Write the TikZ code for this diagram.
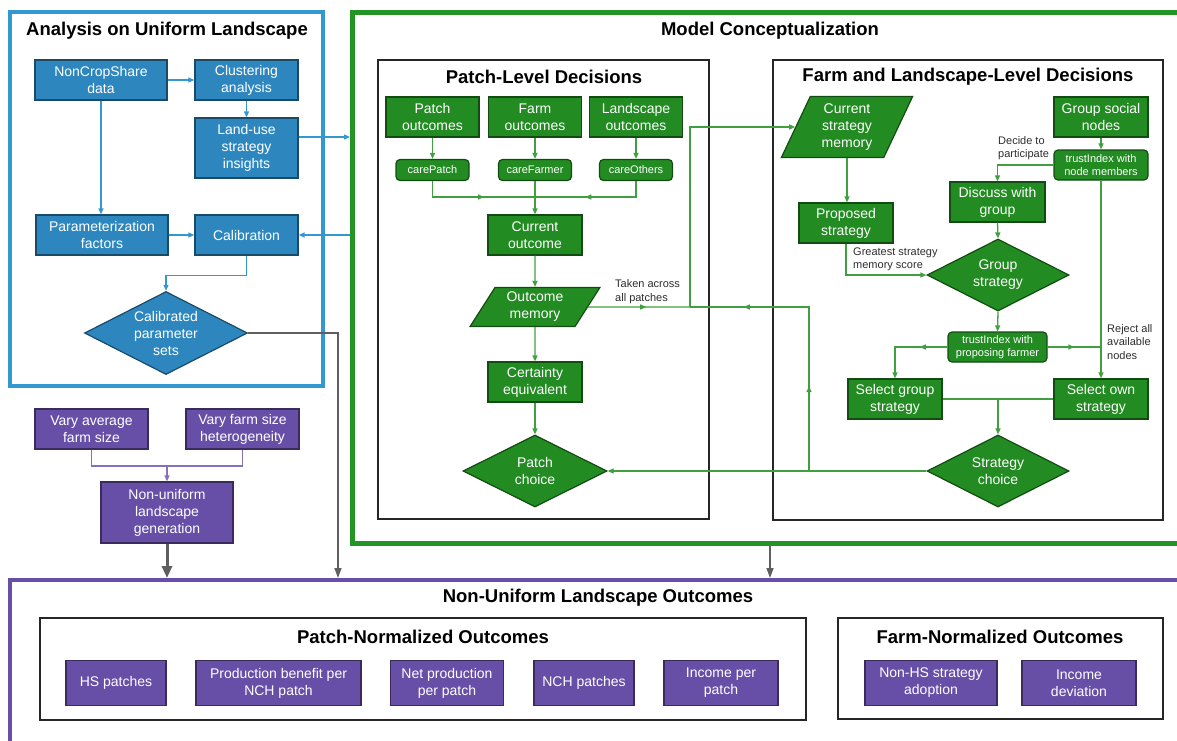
\documentclass[tikz,border=0pt]{standalone}
\usepackage{fontspec}
\setmainfont{Liberation Sans}
\usetikzlibrary{arrows.meta,shapes.geometric,decorations.markings}

\definecolor{blu}{RGB}{45,135,190}
\definecolor{bluCornice}{RGB}{52,152,208}
\definecolor{verde}{RGB}{34,139,34}
\definecolor{verdeCornice}{RGB}{36,148,36}
\definecolor{verdeLinea}{RGB}{64,160,64}
\definecolor{viola}{RGB}{103,78,167}
\definecolor{grigio}{RGB}{95,95,95}
\definecolor{testoScuro}{RGB}{45,45,45}

\tikzset{
  testo/.style={font=\fontsize{14}{17}\selectfont},
  testino/.style={font=\fontsize{11}{13.3}\selectfont},
  titolo/.style={font=\fontsize{18.5}{22}\selectfont\bfseries},
  scatola/.style={draw=#1!55!black, fill=#1, text=white, line width=1.2pt,
    align=center, inner sep=1pt, testo},
  bbox/.style={scatola=blu, minimum width=#1, minimum height=40pt},
  gbox/.style={scatola=verde, minimum width=#1, minimum height=40pt},
  pbox/.style={scatola=viola, minimum width=#1, minimum height=40pt},
  gtondo/.style={scatola=verde, rounded corners=4pt, testino, minimum width=#1},
  rombo/.style={scatola=#1, diamond, aspect=2, inner sep=0pt},
  parall/.style={scatola=verde, trapezium, trapezium stretches=true},
  nota/.style={testino, text=testoScuro, align=left, inner sep=1pt},
  punta/.style={-{Triangle[length=6pt,width=5pt]}},
  lblu/.style={draw=bluCornice, line width=1.3pt},
  lverde/.style={draw=verdeLinea, line width=1.3pt},
  lviola/.style={draw=viola!80, line width=1.2pt},
  frecciamezzo/.style={postaction=decorate, decoration={markings,
    mark=at position #1 with {\arrow{Triangle[length=6pt,width=5pt]}}}},
  gsottile/.style={draw=grigio, line width=1.5pt, -{Triangle[length=10pt,width=7pt]}},
  gspessa/.style={draw=grigio, line width=3pt, -{Triangle[length=12pt,width=10pt]}},
}

\begin{document}
\begin{tikzpicture}[x=1pt,y=-1pt]
  \useasboundingbox (0,0) rectangle (1177,740);

  % Cornici
  \draw[bluCornice, line width=4.5pt] (10,12) rectangle (323,386);
  \draw[verdeCornice, line width=5pt] (352,12) rectangle (1200,543);
  \draw[black!85, line width=1.5pt] (378,60) rectangle (709,519);
  \draw[black!85, line width=1.5pt] (773,60) rectangle (1163,520);
  \draw[viola, line width=4.5pt] (10,580) rectangle (1200,770);
  \draw[black!85, line width=1.5pt] (40,618) rectangle (806,720);
  \draw[black!85, line width=1.5pt] (838,618) rectangle (1163,719);

  % Titoli
  \node[titolo] (tAnalisi) at (167,31) {Analysis on Uniform Landscape};
  \node[titolo] (tModello) at (770,31) {Model Conceptualization};
  \node[titolo] (tPatch) at (544,77) {Patch-Level Decisions};
  \node[titolo] (tFarm) at (968,77) {Farm and Landscape-Level Decisions};
  \node[titolo] (tEsiti) at (598,598) {Non-Uniform Landscape Outcomes};
  \node[titolo] (tPN) at (423,637) {Patch-Normalized Outcomes};
  \node[titolo] (tFN) at (1000,637) {Farm-Normalized Outcomes};

  % Paesaggio uniforme
  \node[bbox=132pt] (ncs) at (101,80) {NonCropShare\\data};
  \node[bbox=103pt] (clu) at (246.5,80) {Clustering\\analysis};
  \node[bbox=103pt, minimum height=60pt] (lus) at (246.5,148) {Land-use\\strategy\\insights};
  \node[bbox=132pt] (par) at (102,235) {Parameterization\\factors};
  \node[bbox=103pt] (cal) at (246.5,235) {Calibration};
  \node[rombo=blu, minimum width=163pt, minimum height=83pt] (cps) at (166,333) {Calibrated\\parameter\\sets};

  \coordinate (mcIn) at (350,137);
  \coordinate (mcOut) at (350,235);
  \draw[lblu, punta] (ncs.east) -- (clu.west);
  \draw[lblu, punta] (clu.south) -- (lus.north);
  \draw[lblu, punta] (ncs.south) -- (ncs.south |- par.north);
  \draw[lblu, punta] (par.east) -- (cal.west);
  \draw[lblu, punta] (cal.south) -- ++(0,20) -| (cps.north);
  \draw[lblu, punta] (lus.east |- mcIn) -- (mcIn);
  \draw[lblu, punta] (mcOut) -- (cal.east);

  % Paesaggio non uniforme
  \node[pbox=113pt] (vaf) at (91.5,429) {Vary average\\farm size};
  \node[pbox=113pt] (vfh) at (242.5,429) {Vary farm size\\heterogeneity};
  \node[pbox=132pt, minimum height=61pt] (nlg) at (167,512.5) {Non-uniform\\landscape\\generation};
  \coordinate (unione) at (167,466);
  \draw[lviola] (vaf.south) |- (vfh.south |- unione) -- (vfh.south);
  \draw[lviola, punta] (unione) -- (nlg.north);

  % Decisioni a livello di patch
  \node[gbox=93pt] (po) at (432.5,117) {Patch\\outcomes};
  \node[gbox=93pt] (fo) at (535,117) {Farm\\outcomes};
  \node[gbox=93pt] (lo) at (636,117) {Landscape\\outcomes};
  \node[gtondo=73pt, minimum height=21pt] (cp) at (432.5,170) {carePatch};
  \node[gtondo=73pt, minimum height=21pt] (cf) at (535,170) {careFarmer};
  \node[gtondo=73pt, minimum height=21pt] (co) at (636,170) {careOthers};
  \node[gbox=94pt] (cur) at (535,235) {Current\\outcome};
  \node[parall, trapezium left angle=60, trapezium right angle=120,
    minimum width=131pt, minimum height=39pt] (om) at (535,307) {Outcome\\memory};
  \node[gbox=94pt] (ce) at (535,382) {Certainty\\equivalent};
  \node[rombo=verde, minimum width=144pt, minimum height=72pt] (pc) at (535,471) {Patch\\choice};
  \node[nota, anchor=west] (lTaken) at (614,291.5) {Taken across\\all patches};

  \coordinate (somma) at (535,197);
  \draw[lverde, punta] (po.south) -- (cp.north);
  \draw[lverde, punta] (fo.south) -- (cf.north);
  \draw[lverde, punta] (lo.south) -- (co.north);
  \draw[lverde, frecciamezzo=0.57] (cp.south) |- (somma);
  \draw[lverde, frecciamezzo=0.57] (co.south) |- (somma);
  \draw[lverde, punta] (cf.south) -- (cur.north);
  \draw[lverde, punta] (cur.south) -- (om.north);
  \draw[lverde, punta] (om.south) -- (ce.north);
  \draw[lverde, punta] (ce.south) -- (pc.north);

  % Decisioni a livello di azienda e paesaggio
  \node[parall, trapezium left angle=67, trapezium right angle=113,
    minimum width=132pt, minimum height=61pt] (csm) at (847,127) {Current\\strategy\\memory};
  \node[gbox=94pt] (gsn) at (1101,117) {Group social\\nodes};
  \node[gtondo=94pt, minimum height=30pt] (tnm) at (1101,165) {trustIndex with\\node members};
  \node[gbox=95pt] (dwg) at (997.5,202) {Discuss with\\group};
  \node[gbox=94pt] (ps) at (846,223) {Proposed\\strategy};
  \node[rombo=verde, minimum width=142pt, minimum height=72pt] (gs) at (998,275) {Group\\strategy};
  \node[gtondo=99pt, minimum height=30pt] (tpf) at (997.5,347) {trustIndex with\\proposing farmer};
  \node[gbox=94pt] (sgs) at (895,399) {Select group\\strategy};
  \node[gbox=94pt] (sos) at (1101,399) {Select own\\strategy};
  \node[rombo=verde, minimum width=142pt, minimum height=72pt] (sc) at (998,471) {Strategy\\choice};
  \node[nota, anchor=west] (lDecide) at (997,148) {Decide to\\participate};
  \node[nota, anchor=west] (lGreatest) at (852,259.5) {Greatest strategy\\memory score};
  \node[nota, anchor=west] (lReject) at (1106,342) {Reject all\\available\\nodes};

  \draw[lverde, punta] (csm.south) -- (csm.south |- ps.north);
  \draw[lverde, punta] (gsn.south) -- (tnm.north);
  \draw[lverde, punta] (tnm.west) -| (dwg.north);
  \draw[lverde, punta] (dwg.south) -- (gs.north);
  \draw[lverde, punta] (ps.south) |- (gs.west);
  \draw[lverde, punta] (gs.south) -- (tpf.north);
  \draw[lverde, punta, frecciamezzo=0.33] (tpf.west) -| (sgs.north);
  \draw[lverde, frecciamezzo=0.5] (tpf.east) -- (tpf.east -| tnm.south);
  \draw[lverde, punta] (tnm.south) -- (sos.north);
  \coordinate (incrocio) at (998,399);
  \draw[lverde] (sgs.east) -- (sos.west);
  \draw[lverde, punta] (incrocio) -- (sc.north);

  % Ritorno della scelta verso la memoria
  \coordinate (nodoA) at (690,307);
  \coordinate (nodoB) at (809,471);
  \draw[lverde, punta] (sc.west) -- (pc.east);
  \draw[lverde, frecciamezzo=0.57] (om.east) -- (nodoA);
  \draw[lverde, postaction=decorate, decoration={markings,
    mark=at position 0.3 with {\arrow{Triangle[length=6pt,width=5pt]}},
    mark=at position 0.81 with {\arrow{Triangle[length=6pt,width=5pt]}}}]
    (nodoB) |- (nodoA);
  \draw[lverde, punta] (nodoA) |- (csm.west);

  % Frecce verso gli esiti
  \coordinate (esiti0) at (167,578);
  \coordinate (esiti1) at (338,578);
  \coordinate (mcBase) at (770,546);
  \coordinate (esiti2) at (770,578);
  \draw[gspessa] (nlg.south) -- (esiti0);
  \draw[gsottile] (cps.east) -| (esiti1);
  \draw[gsottile] (mcBase) -- (esiti2);

  % Esiti normalizzati
  \node[pbox=100pt, minimum height=45pt] (hs) at (116,683) {HS patches};
  \node[pbox=165pt, minimum height=45pt] (pbn) at (278.5,683) {Production benefit per\\NCH patch};
  \node[pbox=113pt, minimum height=45pt] (npp) at (447,683) {Net production\\per patch};
  \node[pbox=100pt, minimum height=45pt] (nch) at (584,683) {NCH patches};
  \node[pbox=114pt, minimum height=45pt] (ipp) at (721,683) {Income per\\patch};
  \node[pbox=132pt, minimum height=45pt] (nhs) at (931,683) {Non-HS strategy\\adoption};
  \node[pbox=114pt, minimum height=45pt] (idv) at (1079,683) {Income\\deviation};
\end{tikzpicture}
\end{document}
